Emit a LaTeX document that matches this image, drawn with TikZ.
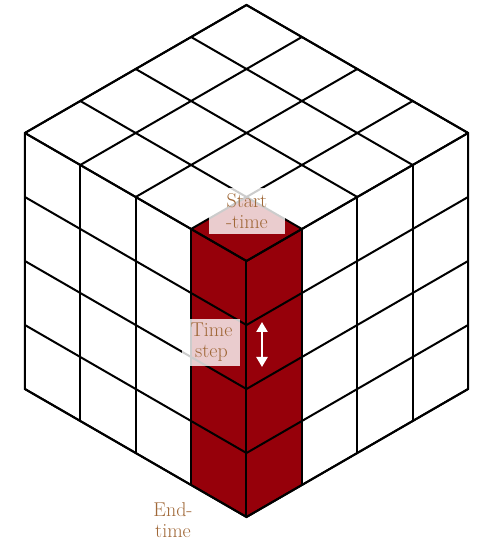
\documentclass[tikz,border=0pt]{standalone}
\usepackage{fontspec}
\usepackage{tikz}
\usetikzlibrary{arrows.meta}
\definecolor{cellred}{RGB}{150,0,10}
\definecolor{tagbrown}{RGB}{160,104,56}
\tikzset{
  cubeline/.style  = {line width=2pt, black},
  tag/.style       = {fill=white, fill opacity=0.8, text opacity=1, text=tagbrown,
                      align=center, inner sep=0pt, font=\fontsize{20}{21}\selectfont},
  steparrow/.style = {{Triangle[length=10pt,width=11pt]}-{Triangle[length=10pt,width=11pt]},
                      line width=2.5pt, white},
}

\begin{document}
\begin{tikzpicture}[x={(55.4pt,32pt)}, y={(-55.4pt,32pt)}, z={(0pt,64pt)}]
  \path[use as bounding box] (-246.5pt,-25pt) rectangle (230.5pt,517pt);
  % the time column at the front corner
  \fill[cellred] (0,0,0) -- (1,0,0) -- (1,0,4) -- (1,1,4) -- (0,1,4) -- (0,1,0) -- cycle;
  \foreach \i in {0,...,4} {
    \draw[cubeline] (\i,0,0) -- (\i,0,4);
    \draw[cubeline] (0,0,\i) -- (4,0,\i);
    \draw[cubeline] (0,\i,0) -- (0,\i,4);
    \draw[cubeline] (0,0,\i) -- (0,4,\i);
    \draw[cubeline] (\i,0,4) -- (\i,4,4);
    \draw[cubeline] (0,\i,4) -- (4,\i,4);
  }
  \draw[cubeline] (0,0,0) -- (4,0,0) -- (4,0,4) -- (4,4,4) -- (0,4,4) -- (0,4,0) -- cycle;
  % labels
  \node[tag, minimum width=76pt, minimum height=46pt] (start) at (0.5pt,306pt) {Start\\-time};
  \node[tag, minimum width=58pt, minimum height=47pt] (timestep) at (-35pt,174.5pt) {Time\\step};
  \node[text=tagbrown, align=center, inner sep=0pt, font=\fontsize{20}{21}\selectfont]
    (endtime) at (-73.5pt,-3pt) {End-\\time};
  \coordinate (stepup) at (15.5pt,195pt);
  \coordinate (stepdown) at (15.5pt,150pt);
  \draw[steparrow] (stepup) -- (stepdown);
\end{tikzpicture}
\end{document}
